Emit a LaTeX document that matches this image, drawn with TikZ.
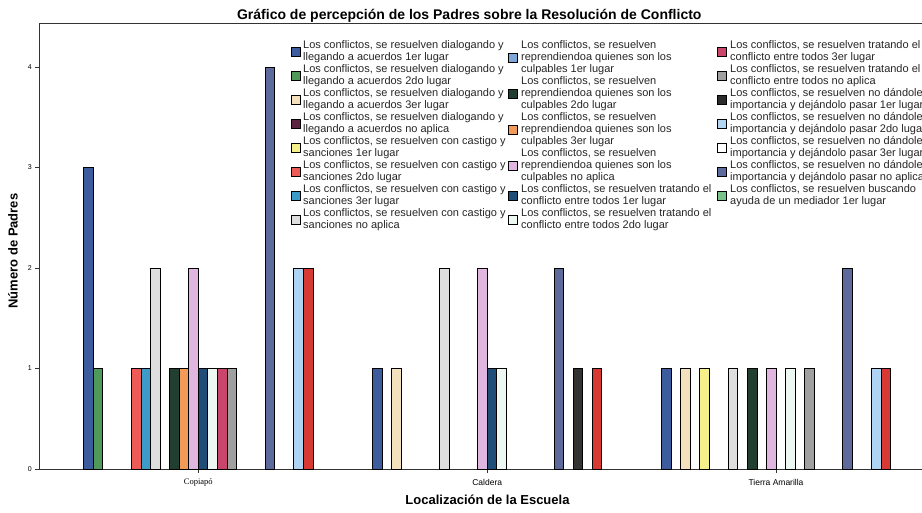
\documentclass[tikz,border=0pt]{standalone}
\usepackage{fontspec}
\setmainfont{Liberation Serif}
\setsansfont{Liberation Sans}
\usepackage{xcolor}
\usepackage{tikz}
\usetikzlibrary{positioning}

\definecolor{dlgA}{HTML}{3D5C9E}
\definecolor{dlgB}{HTML}{4F9A5B}
\definecolor{dlgC}{HTML}{F2E1BC}
\definecolor{dlgD}{HTML}{5B2440}
\definecolor{casA}{HTML}{F6F08A}
\definecolor{casB}{HTML}{EE5A55}
\definecolor{casC}{HTML}{3C9BC9}
\definecolor{casD}{HTML}{DEDEDE}
\definecolor{repA}{HTML}{7EA6D6}
\definecolor{repB}{HTML}{203F30}
\definecolor{repC}{HTML}{F29B58}
\definecolor{repD}{HTML}{E0B6E0}
\definecolor{traA}{HTML}{1E4D78}
\definecolor{traB}{HTML}{EEF8F3}
\definecolor{traC}{HTML}{C9456B}
\definecolor{traD}{HTML}{A0A0A0}
\definecolor{ignA}{HTML}{2B2B2B}
\definecolor{ignB}{HTML}{B3D5F2}
\definecolor{ignC}{HTML}{FFFFFF}
\definecolor{ignD}{HTML}{5F6A9C}
\definecolor{busA}{HTML}{79C38A}
\definecolor{busB}{HTML}{333333}
\definecolor{busC}{HTML}{AFD3F3}
\definecolor{busD}{HTML}{D63A33}

\begin{document}
\begin{tikzpicture}[x=1pt,y=1pt]
\tikzset{axis/.style = {draw=black!80,line width=0.9pt}}
\tikzset{bar/.style = {draw=black,line width=0.8pt}}
\tikzset{swatch/.style = {shape=rectangle,draw=black,line width=0.8pt,minimum size=9pt,inner sep=0pt}}
\tikzset{lgtext/.style = {font=\sffamily\fontsize{11}{12}\selectfont,text=black!85,align=left,inner sep=0pt,anchor=west}}
\tikzset{ticklabel/.style = {font=\sffamily\fontsize{7}{8}\selectfont,inner sep=0pt,anchor=east}}
\tikzset{catlabel/.style = {font=\sffamily\fontsize{8.5}{10}\selectfont,inner sep=0pt}}
\tikzset{axistitle/.style = {font=\sffamily\bfseries\fontsize{13}{15}\selectfont,inner sep=0pt}}
\useasboundingbox (-39,-43) rectangle (883,469);

% frame and axes
\coordinate (o) at (0,0);
\coordinate (ytop) at (0,446);
\coordinate (xend) at (883,0);
\coordinate (tend) at (883,446);
\draw[axis] (tend) -- (ytop) -- (o) -- (xend);

% y ticks
\node[ticklabel] (y0) at (-7,0) {0};
\node[ticklabel] (y1) at (-7,100.5) {1};
\node[ticklabel] (y2) at (-7,201) {2};
\node[ticklabel] (y3) at (-7,301.5) {3};
\node[ticklabel] (y4) at (-7,402) {4};
\draw[axis] (-4,0) -- (0,0);
\draw[axis] (-4,100.5) -- (0,100.5);
\draw[axis] (-4,201) -- (0,201);
\draw[axis] (-4,301.5) -- (0,301.5);
\draw[axis] (-4,402) -- (0,402);

% x ticks
\draw[axis] (159.3,0) -- (159.3,-4);
\draw[axis] (448.2,0) -- (448.2,-4);
\draw[axis] (737,0) -- (737,-4);
\node[catlabel,font=\rmfamily\fontsize{8.5}{10}\selectfont] (copiapo) at (159.3,-13.7) {Copiapó};
\node[catlabel] (caldera) at (448.2,-13.7) {Caldera};
\node[catlabel] (tierra) at (737,-13.7) {Tierra Amarilla};

% titles
\node[font=\sffamily\bfseries\fontsize{14}{16}\selectfont,anchor=base,inner sep=0pt] (title) at (430.3,449) {Gráfico de percepción de los Padres sobre la Resolución de Conflicto};
\node[axistitle,rotate=90] (ytitle) at (-26,218) {Número de Padres};
\node[axistitle] (xtitle) at (448.5,-31) {Localización de la Escuela};

% Copiapo
\begin{scope}[xshift=44.7pt,x=9.55pt,y=100.5pt]
\draw[bar,fill=dlgA] (0,0) rectangle (1,3);
\draw[bar,fill=dlgB] (1,0) rectangle (2,1);
\draw[bar,fill=casB] (5,0) rectangle (6,1);
\draw[bar,fill=casC] (6,0) rectangle (7,1);
\draw[bar,fill=casD] (7,0) rectangle (8,2);
\draw[bar,fill=repB] (9,0) rectangle (10,1);
\draw[bar,fill=repC] (10,0) rectangle (11,1);
\draw[bar,fill=repD] (11,0) rectangle (12,2);
\draw[bar,fill=traA] (12,0) rectangle (13,1);
\draw[bar,fill=traB] (13,0) rectangle (14,1);
\draw[bar,fill=traC] (14,0) rectangle (15,1);
\draw[bar,fill=traD] (15,0) rectangle (16,1);
\draw[bar,fill=ignD] (19,0) rectangle (20,4);
\draw[bar,fill=busC] (22,0) rectangle (23,2);
\draw[bar,fill=busD] (23,0) rectangle (24,2);
\end{scope}

% Caldera
\begin{scope}[xshift=333.6pt,x=9.55pt,y=100.5pt]
\draw[bar,fill=dlgA] (0,0) rectangle (1,1);
\draw[bar,fill=dlgC] (2,0) rectangle (3,1);
\draw[bar,fill=casD] (7,0) rectangle (8,2);
\draw[bar,fill=repD] (11,0) rectangle (12,2);
\draw[bar,fill=traA] (12,0) rectangle (13,1);
\draw[bar,fill=traB] (13,0) rectangle (14,1);
\draw[bar,fill=ignD] (19,0) rectangle (20,2);
\draw[bar,fill=busB] (21,0) rectangle (22,1);
\draw[bar,fill=busD] (23,0) rectangle (24,1);
\end{scope}

% Tierra Amarilla
\begin{scope}[xshift=622.4pt,x=9.55pt,y=100.5pt]
\draw[bar,fill=dlgA] (0,0) rectangle (1,1);
\draw[bar,fill=dlgC] (2,0) rectangle (3,1);
\draw[bar,fill=casA] (4,0) rectangle (5,1);
\draw[bar,fill=casD] (7,0) rectangle (8,1);
\draw[bar,fill=repB] (9,0) rectangle (10,1);
\draw[bar,fill=repD] (11,0) rectangle (12,1);
\draw[bar,fill=traB] (13,0) rectangle (14,1);
\draw[bar,fill=traD] (15,0) rectangle (16,1);
\draw[bar,fill=ignD] (19,0) rectangle (20,2);
\draw[bar,fill=busC] (22,0) rectangle (23,1);
\draw[bar,fill=busD] (23,0) rectangle (24,1);
\end{scope}

% legend, first column
\node[lgtext] (dlgAtxt) at (264,417) {Los conflictos, se resuelven dialogando y\\llegando a acuerdos 1er lugar};
\node[lgtext] (dlgBtxt) at (264,393) {Los conflictos, se resuelven dialogando y\\llegando a acuerdos 2do lugar};
\node[lgtext] (dlgCtxt) at (264,369) {Los conflictos, se resuelven dialogando y\\llegando a acuerdos 3er lugar};
\node[lgtext] (dlgDtxt) at (264,345) {Los conflictos, se resuelven dialogando y\\llegando a acuerdos no aplica};
\node[lgtext] (casAtxt) at (264,321) {Los conflictos, se resuelven con castigo y\\sanciones 1er lugar};
\node[lgtext] (casBtxt) at (264,297) {Los conflictos, se resuelven con castigo y\\sanciones 2do lugar};
\node[lgtext] (casCtxt) at (264,273) {Los conflictos, se resuelven con castigo y\\sanciones 3er lugar};
\node[lgtext] (casDtxt) at (264,249) {Los conflictos, se resuelven con castigo y\\sanciones no aplica};
\node[swatch,fill=dlgA,left=2pt of dlgAtxt.west] (dlgAbox) {};
\node[swatch,fill=dlgB,left=2pt of dlgBtxt.west] (dlgBbox) {};
\node[swatch,fill=dlgC,left=2pt of dlgCtxt.west] (dlgCbox) {};
\node[swatch,fill=dlgD,left=2pt of dlgDtxt.west] (dlgDbox) {};
\node[swatch,fill=casA,left=2pt of casAtxt.west] (casAbox) {};
\node[swatch,fill=casB,left=2pt of casBtxt.west] (casBbox) {};
\node[swatch,fill=casC,left=2pt of casCtxt.west] (casCbox) {};
\node[swatch,fill=casD,left=2pt of casDtxt.west] (casDbox) {};

% legend, second column
\node[lgtext] (repAtxt) at (482,411) {Los conflictos, se resuelven\\reprendiendoa quienes son los\\culpables 1er lugar};
\node[lgtext] (repBtxt) at (482,375) {Los conflictos, se resuelven\\reprendiendoa quienes son los\\culpables 2do lugar};
\node[lgtext] (repCtxt) at (482,339) {Los conflictos, se resuelven\\reprendiendoa quienes son los\\culpables 3er lugar};
\node[lgtext] (repDtxt) at (482,303) {Los conflictos, se resuelven\\reprendiendoa quienes son los\\culpables no aplica};
\node[lgtext] (traAtxt) at (482,273) {Los conflictos, se resuelven tratando el\\conflicto entre todos 1er lugar};
\node[lgtext] (traBtxt) at (482,249) {Los conflictos, se resuelven tratando el\\conflicto entre todos 2do lugar};
\node[swatch,fill=repA,left=3pt of repAtxt.west] (repAbox) {};
\node[swatch,fill=repB,left=3pt of repBtxt.west] (repBbox) {};
\node[swatch,fill=repC,left=3pt of repCtxt.west] (repCbox) {};
\node[swatch,fill=repD,left=3pt of repDtxt.west] (repDbox) {};
\node[swatch,fill=traA,left=3pt of traAtxt.west] (traAbox) {};
\node[swatch,fill=traB,left=3pt of traBtxt.west] (traBbox) {};

% legend, third column
\node[lgtext] (traCtxt) at (691,417) {Los conflictos, se resuelven tratando el\\conflicto entre todos 3er lugar};
\node[lgtext] (traDtxt) at (691,393) {Los conflictos, se resuelven tratando el\\conflicto entre todos no aplica};
\node[lgtext] (ignAtxt) at (691,369) {Los conflictos, se resuelven no dándole\\importancia y dejándolo pasar 1er lugar};
\node[lgtext] (ignBtxt) at (691,345) {Los conflictos, se resuelven no dándole\\importancia y dejándolo pasar 2do lugar};
\node[lgtext] (ignCtxt) at (691,321) {Los conflictos, se resuelven no dándole\\importancia y dejándolo pasar 3er lugar};
\node[lgtext] (ignDtxt) at (691,297) {Los conflictos, se resuelven no dándole\\importancia y dejándolo pasar no aplica};
\node[lgtext] (busAtxt) at (691,273) {Los conflictos, se resuelven buscando\\ayuda de un mediador 1er lugar};
\node[swatch,fill=traC,left=3pt of traCtxt.west] (traCbox) {};
\node[swatch,fill=traD,left=3pt of traDtxt.west] (traDbox) {};
\node[swatch,fill=ignA,left=3pt of ignAtxt.west] (ignAbox) {};
\node[swatch,fill=ignB,left=3pt of ignBtxt.west] (ignBbox) {};
\node[swatch,fill=ignC,left=3pt of ignCtxt.west] (ignCbox) {};
\node[swatch,fill=ignD,left=3pt of ignDtxt.west] (ignDbox) {};
\node[swatch,fill=busA,left=3pt of busAtxt.west] (busAbox) {};
\end{tikzpicture}
\end{document}
